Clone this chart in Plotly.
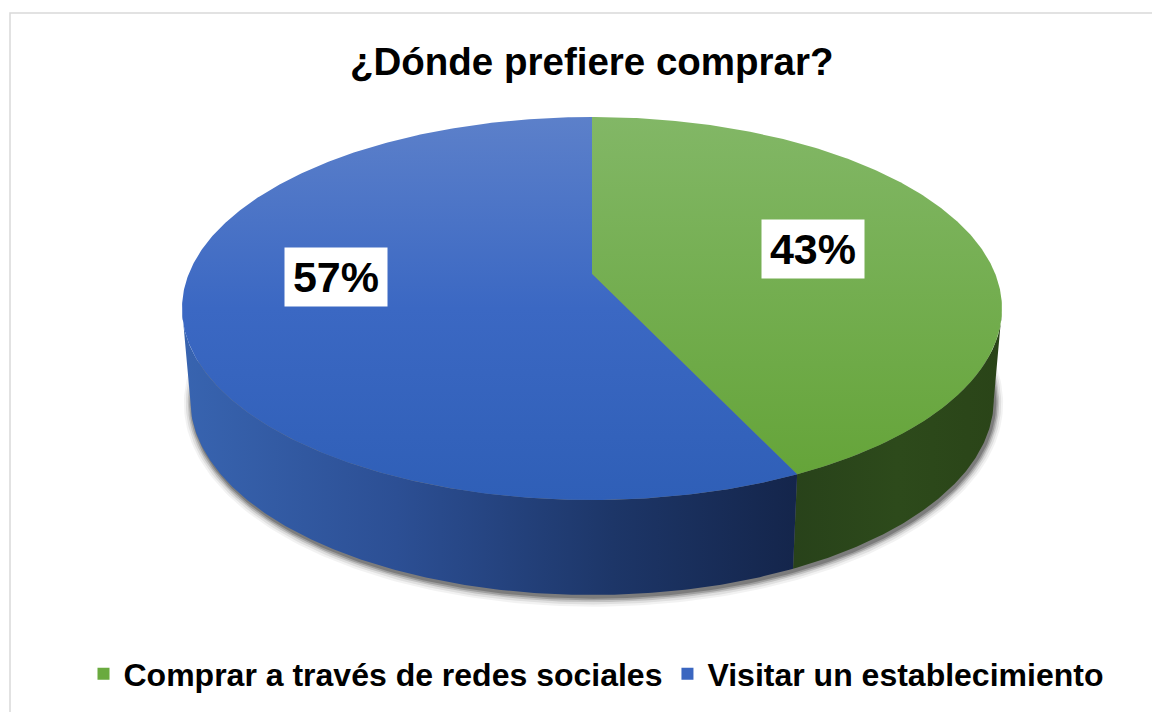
import math
import plotly.graph_objects as go

# ---------------- data ----------------
categories = ["Comprar a través de redes sociales", "Visitar un establecimiento"]
values = [43, 57]
label_texts = ["43%", "57%"]
title_text = "¿Dónde prefiere comprar?"

# ---------------- style ----------------
top_colors = [[[0, "#82b766"], [1, "#63a336"]],
              [[0, "#5c80ca"], [0.5, "#3b68c3"], [1, "#2f5fb7"]]]
side_colors = [[[0, "#28421a"], [0.5, "#2d4a1b"], [1, "#2a4418"]],
               [[0, "#3864b0"], [0.35, "#2c4f94"], [0.7, "#1d3668"], [1, "#14254b"]]]
legend_colors = ["#6aaa3f", "#3a66c0"]
FONT = "Liberation Sans, Arial, sans-serif"

W, H = 1160, 712
OFF = 8                    # page body margin of the browser
CX, CY = 592, 274          # projected centre of the pie top
A, B, K = 403.3, 185.3, 0.18   # perspective ellipse parameters
DEPTH0, DEPTH_VAR, SHRINK = 90, 5, 0.98
LABEL_R = [0.57, 0.64]
LABEL_DY = [2, 24]


def proj(theta, r=1.0):
    t = math.radians(theta)
    s, c = math.sin(t), math.cos(t)
    den = 1 + K * r * c
    return CX + A * r * s / den, CY - B * r * c / den


def proj_bottom(theta):
    x, y = proj(theta)
    c = math.cos(math.radians(theta))
    return CX + (x - CX) * SHRINK, y + DEPTH0 - DEPTH_VAR * c


def arc(t0, t1, fn, step=0.5):
    n = max(2, int(abs(t1 - t0) / step) + 1)
    pts = [fn(t0 + (t1 - t0) * i / (n - 1)) for i in range(n)]
    return [p[0] for p in pts], [p[1] for p in pts]


total = sum(values)
bounds = [0]
for v in values:
    bounds.append(bounds[-1] + 360 * v / total)

theta_r = math.degrees(math.acos(-K))       # right silhouette
theta_l = 360 - theta_r                     # left silhouette

fig = go.Figure()

# shadow (soft, a few translucent layers)
for e, a in [(8, 0.05), (6, 0.08), (4, 0.13), (2.5, 0.18), (1, 0.22)]:
    xs, ys = arc(0, 360, proj_bottom, 1)
    bcx, bcy = CX, CY + DEPTH0
    sx = [bcx + (x - bcx) * (1 + e / 410) + 1.5 for x in xs]
    sy = [bcy + (y - bcy) * (1 + e / 200) + 2.5 for y in ys]
    fig.add_trace(go.Scatter(x=sx, y=sy, mode="lines", fill="toself",
                             fillcolor=f"rgba(0,0,0,{a})", line=dict(width=0),
                             hoverinfo="skip", showlegend=False))

# sides
for i in range(len(values)):
    a0 = max(bounds[i], theta_r)
    a1 = min(bounds[i + 1], theta_l)
    if a1 <= a0:
        continue
    tx, ty = arc(a0, a1, proj)
    bx, by = arc(a1, a0, proj_bottom)
    xs = tx + bx + [tx[0]]
    ys = ty + by + [ty[0]]
    fig.add_trace(go.Scatter(
        x=xs, y=ys, mode="lines", fill="toself", line=dict(width=0),
        fillgradient=dict(type="horizontal", start=min(xs), stop=max(xs),
                          colorscale=side_colors[i]),
        hoverinfo="skip", showlegend=False))

# tops
for i in range(len(values)):
    ax, ay = arc(bounds[i], bounds[i + 1], proj)
    xs = [CX] + ax + [CX]
    ys = [CY] + ay + [CY]
    fig.add_trace(go.Scatter(
        x=xs, y=ys, mode="lines", fill="toself", line=dict(width=0),
        fillgradient=dict(type="vertical", start=CY - B / (1 + K),
                          stop=CY + B / (1 - K), colorscale=top_colors[i]),
        hoverinfo="skip", showlegend=False))

# legend entries
for i, name in enumerate(categories):
    fig.add_trace(go.Scatter(x=[None], y=[None], mode="markers", name=name,
                             marker=dict(symbol="square", size=15, color=legend_colors[i])))

# data labels
for i, txt in enumerate(label_texts):
    mid = (bounds[i] + bounds[i + 1]) / 2
    lx, ly = proj(mid, LABEL_R[i])
    fig.add_annotation(x=lx + 2, y=ly - LABEL_DY[i], text=txt, showarrow=False,
                       font=dict(family=FONT, size=43, color="black", weight="bold"),
                       bgcolor="white", width=102, height=58, borderpad=0,
                       xanchor="center", yanchor="middle")

# title
fig.add_annotation(x=CX, y=61, text=title_text, showarrow=False,
                   font=dict(family=FONT, size=38.5, color="black", weight="bold"),
                   xanchor="center", yanchor="middle")

# chart-area border
fig.add_shape(type="rect", x0=10, y0=13, x1=1175, y1=730,
              line=dict(color="#d9d9d9", width=1.5), layer="below")

LEG_X, LEG_Y = 596, 674
fig.update_layout(
    width=W, height=H,
    margin=dict(l=0, r=0, t=0, b=0),
    paper_bgcolor="white", plot_bgcolor="white",
    xaxis=dict(range=[OFF, W + OFF], visible=False, fixedrange=True),
    yaxis=dict(range=[H + OFF, OFF], visible=False, fixedrange=True),
    showlegend=True,
    legend=dict(orientation="h", x=(LEG_X - OFF) / W, xanchor="center",
                y=1 - (LEG_Y - OFF) / H, yanchor="middle",
                font=dict(family=FONT, size=32, color="black", weight="bold"),
                bgcolor="rgba(0,0,0,0)", itemsizing="constant", tracegroupgap=0),
)

fig.write_html("out.html")
